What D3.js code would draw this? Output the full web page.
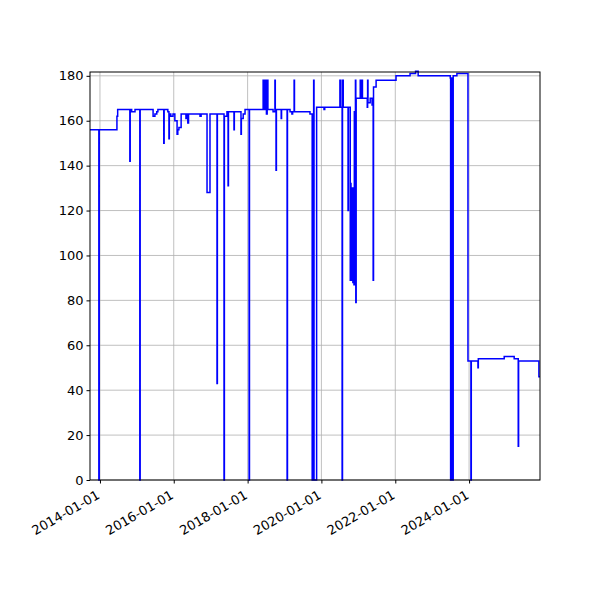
<!DOCTYPE html>
<html><head><meta charset="utf-8">
<script src="https://cdn.jsdelivr.net/npm/d3@7"></script>
<style>body{margin:0;background:#fff}text{font-family:"DejaVu Sans",sans-serif}</style>
</head><body><svg id="c" width="600" height="600"></svg>
<script>
const times=[2013.73,2013.97,2013.98,2014.46,2014.48,2014.81,2014.82,2014.86,2014.95,2015.08,2015.09,2015.44,2015.49,2015.54,2015.57,2015.73,2015.74,2015.84,2015.87,2015.88,2015.92,2015.98,2016.03,2016.09,2016.11,2016.14,2016.20,2016.33,2016.35,2016.38,2016.40,2016.71,2016.74,2016.90,2016.98,2017.17,2017.18,2017.36,2017.37,2017.44,2017.47,2017.48,2017.63,2017.64,2017.82,2017.83,2017.88,2017.93,2018.04,2018.05,2018.42,2018.44,2018.46,2018.48,2018.50,2018.51,2018.53,2018.55,2018.69,2018.74,2018.75,2018.77,2018.78,2018.91,2018.92,2019.07,2019.08,2019.15,2019.20,2019.22,2019.26,2019.27,2019.69,2019.75,2019.79,2019.80,2019.87,2020.07,2020.09,2020.50,2020.52,2020.56,2020.57,2020.59,2020.72,2020.73,2020.78,2020.79,2020.80,2020.81,2020.82,2020.84,2020.85,2020.86,2020.88,2020.89,2020.92,2020.93,2020.94,2021.05,2021.06,2021.10,2021.11,2021.24,2021.25,2021.26,2021.32,2021.37,2021.40,2021.41,2021.48,2022.02,2022.40,2022.55,2022.62,2023.49,2023.50,2023.51,2023.53,2023.57,2023.67,2023.97,2024.05,2024.06,2024.24,2024.25,2024.95,2025.22,2025.33,2025.34,2025.89,2025.92];
const values=[156,0,156,162,165,142,165,164,165,0,165,162,163,164,165,150,165,164,152,163,162,163,160,154,156,157,163,161,163,159,163,162,163,128,163,43,163,0,162,164,131,164,156,164,154,161,163,165,0,165,178,165,178,165,178,163,178,165,164,178,164,138,165,161,165,0,165,164,163,164,178,164,163,0,178,0,166,165,166,178,166,0,178,166,120,166,89,132,89,128,90,130,88,125,87,164,178,79,170,178,170,178,170,166,178,168,170,167,89,175,178,180,181,182,180,179,0,179,0,180,181,53,0,53,50,54,55,54,15,53,46,46];
const yTicks=[0,20,40,60,80,100,120,140,160,180];
const xTickYears=[2014,2016,2018,2020,2022,2024];

const toDate=t=>{const y=Math.floor(t);const s=new Date(y,0,1),e=new Date(y+1,0,1);return new Date(+s+(t-y)*(e-s));};
const data=times.map((t,i)=>({d:toDate(t),v:values[i]}));
const svg=d3.select("#c");
const L=90,R=540,T=72,B=480;
const x=d3.scaleTime().domain([toDate(2013.73),toDate(2025.92)]).range([L,R]);
const y=d3.scaleLinear().domain([0,181.7]).range([B,T]);
const g=svg.append("g");
g.selectAll(".gx").data(xTickYears).join("line").attr("x1",d=>x(new Date(d,0,1))).attr("x2",d=>x(new Date(d,0,1))).attr("y1",T).attr("y2",B).attr("stroke","#b0b0b0").attr("stroke-width",0.8);
g.selectAll(".gy").data(yTicks).join("line").attr("x1",L).attr("x2",R).attr("y1",d=>y(d)).attr("y2",d=>y(d)).attr("stroke","#b0b0b0").attr("stroke-width",0.8);
const line=d3.line().x(d=>x(d.d)).y(d=>y(d.v)).curve(d3.curveStepAfter);
svg.append("path").datum(data).attr("d",line).attr("fill","none").attr("stroke","#0000ff").attr("stroke-width",1.5);
svg.append("rect").attr("x",L).attr("y",T).attr("width",R-L).attr("height",B-T).attr("fill","none").attr("stroke","#000").attr("stroke-width",1);
const xa=svg.append("g").attr("transform",`translate(0,${B})`).call(d3.axisBottom(x).tickValues(xTickYears.map(d=>new Date(d,0,1))).tickFormat(d3.timeFormat("%Y-%m-%d")).tickSize(3.5));
xa.select(".domain").remove();
xa.selectAll("text").attr("font-size",13).attr("fill","#000").style("text-anchor","end").attr("dx","0").attr("dy","0").attr("transform","translate(-3,12) rotate(-30)");
const ya=svg.append("g").attr("transform",`translate(${L},0)`).call(d3.axisLeft(y).tickValues(yTicks).tickSize(3.5));
ya.select(".domain").remove();
ya.selectAll("text").attr("font-size",13).attr("fill","#000");
</script></body></html>
